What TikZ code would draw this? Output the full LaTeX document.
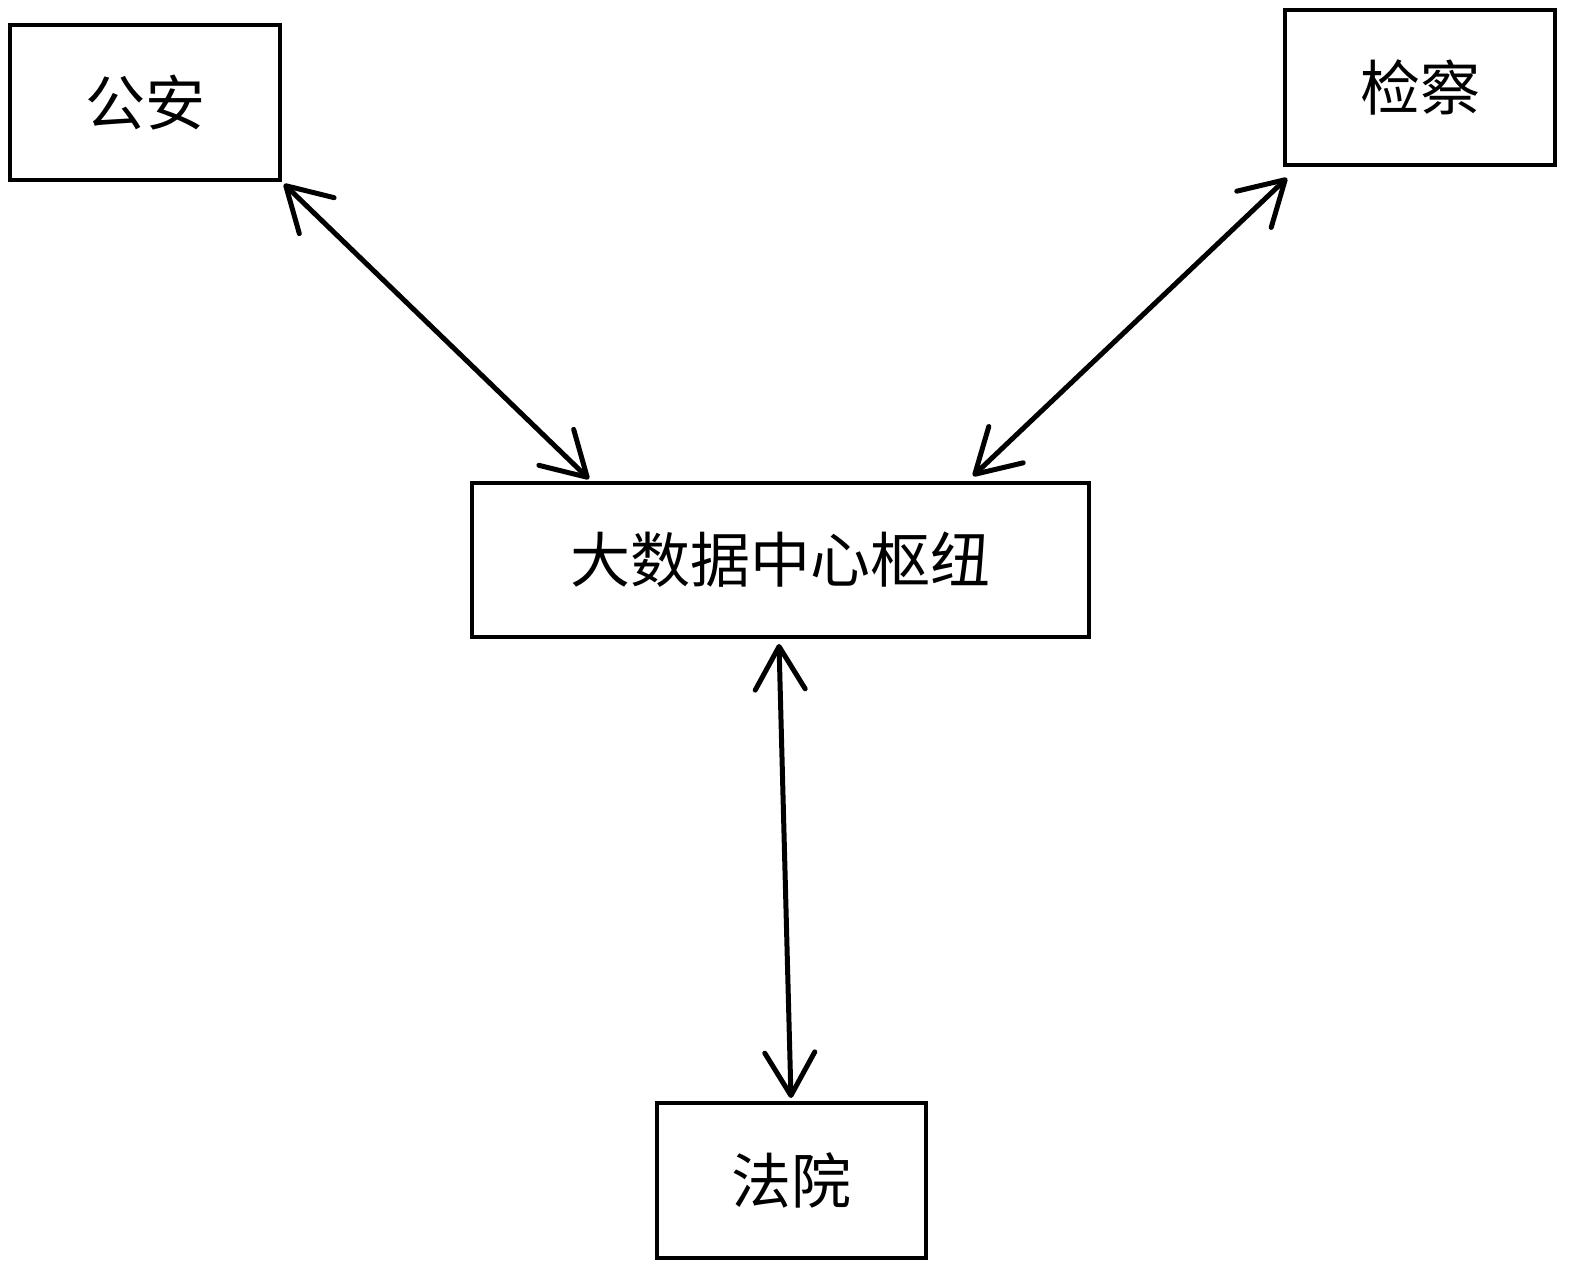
\documentclass[tikz,border=0pt]{standalone}
\usepackage{fontspec}
\newfontfamily\cjk{Noto Sans CJK SC}
\usetikzlibrary{arrows.meta}
\begin{document}
\begin{tikzpicture}[x=1pt,y=-1pt,
  box/.style={draw, line width=3.5pt, minimum width=270pt, minimum height=155pt, inner sep=0pt, font=\cjk\fontsize{60pt}{66pt}\selectfont},
  link/.style={line width=5pt, line cap=round, {Straight Barb[length=43pt,width=50pt,line cap=round,line join=round]}-{Straight Barb[length=43pt,width=50pt,line cap=round,line join=round]}}]
\useasboundingbox (0,0) rectangle (1575,1276);
\node[box] (ga) at (145,102.5) {公安};
\node[box] (jc) at (1420,87.5) {检察};
\node[box, minimum width=617pt, minimum height=154pt] (hub) at (780.5,560) {大数据中心枢纽};
\node[box, minimum width=269pt] (fy) at (791.5,1180.5) {法院};
\coordinate (a1) at (284,184);
\coordinate (a2) at (589,479);
\coordinate (b1) at (1287,178);
\coordinate (b2) at (973,476);
\coordinate (c1) at (779,644);
\coordinate (c2) at (791,1098);
\draw[link] (a1) -- (a2);
\draw[link] (b1) -- (b2);
\draw[link] (c1) -- (c2);
\end{tikzpicture}
\end{document}
